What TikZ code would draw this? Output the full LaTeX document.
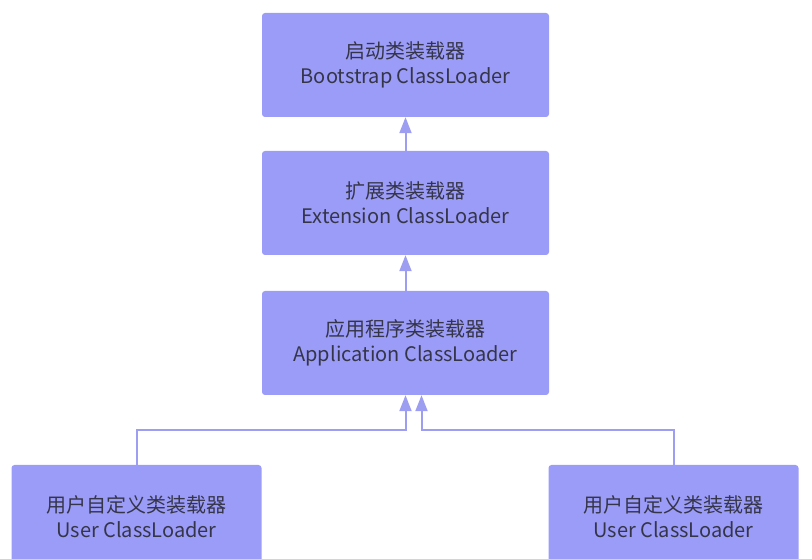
\documentclass[tikz,border=0pt]{standalone}
\usepackage{fontspec}
\setmainfont{Noto Sans CJK SC}
\usetikzlibrary{arrows.meta}
\definecolor{boxfill}{HTML}{9B9CF7}
\definecolor{linkcol}{HTML}{9D9EF2}
\definecolor{txtcol}{HTML}{35354A}
\tikzset{
	loader/.style={fill=boxfill, rounded corners=3pt, minimum width=287pt, minimum height=104pt,
		align=center, text=txtcol, font=\fontsize{20}{25}\selectfont, inner sep=0pt},
	userloader/.style={loader, minimum width=250pt},
	parent/.style={-{Triangle[width=12pt,length=16pt]}, draw=linkcol, line width=2pt}
}
\begin{document}
\begin{tikzpicture}[x=1pt,y=1pt]
	\useasboundingbox (0,0) rectangle (812,559);
	\clip (0,0) rectangle (812,559);
	\node[loader] (boot) at (405.5,494) {启动类装载器\\Bootstrap ClassLoader};
	\node[loader] (ext) at (405.5,356) {扩展类装载器\\Extension ClassLoader};
	\node[loader] (app) at (405.5,216) {应用程序类装载器\\Application ClassLoader};
	\node[userloader] (userl) at (136.5,42) {用户自定义类装载器\\User ClassLoader};
	\node[userloader] (userr) at (673.5,42) {用户自定义类装载器\\User ClassLoader};
	
	\coordinate (jl) at (app.south |- 0,129);
	\coordinate (jr) at ([xshift=16pt]app.south |- 0,129);
	
	\draw[parent] (ext.north) -- (boot.south);
	\draw[parent] (app.north) -- (ext.south);
	\draw[parent] (userl.north) |- (jl) -- (app.south);
	\draw[parent] (userr.north) |- (jr) -- ([xshift=16pt]app.south);
\end{tikzpicture}
\end{document}
